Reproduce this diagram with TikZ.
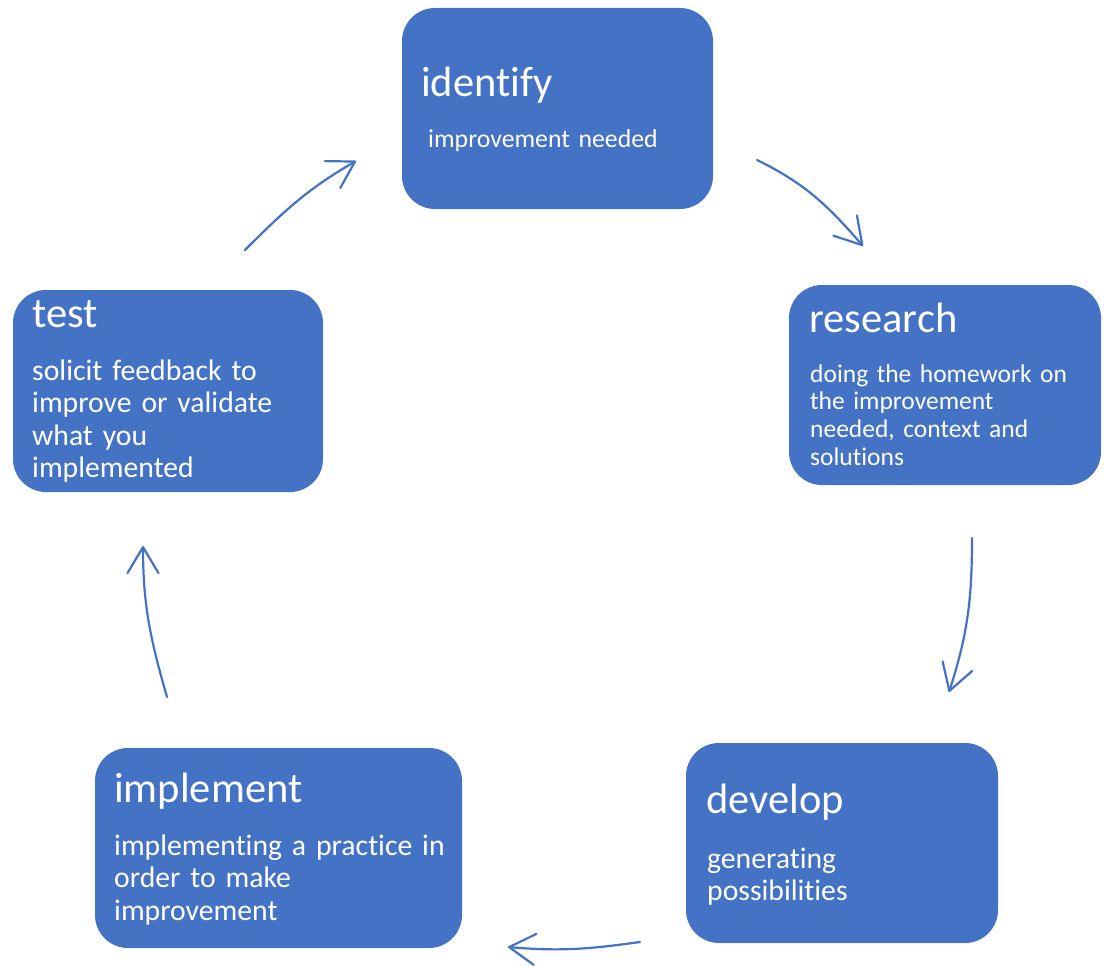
\documentclass[tikz,border=0pt]{standalone}
\usepackage{fontspec}
\setmainfont{Carlito}[Ligatures=NoCommon, WordSpace=0.9]
\usetikzlibrary{arrows.meta}
\definecolor{boxblue}{HTML}{4472C4}
\begin{document}
\begin{tikzpicture}[x=1pt,y=1pt,
  stepbox/.style={rectangle, rounded corners=33pt, fill=boxblue, draw=none, inner sep=0pt},
  titletext/.style={anchor=base west, inner sep=0pt, text=white, font={\fontsize{42.5pt}{51pt}\selectfont}},
  bodytext/.style={anchor=base west, inner sep=0pt, text=white, align=left, text width=340pt},
  bodybig/.style={bodytext, font={\fontsize{29.7pt}{32.6pt}\selectfont}},
  flow/.style={draw=boxblue, line width=2.2pt, line cap=round,
    -{Straight Barb[length=26pt,width=31pt,line width=2.2pt,round]}}]
\useasboundingbox (0,0) rectangle (1104,-966);

% boxes
\node[stepbox, minimum width=311pt, minimum height=201pt] (identify) at (557.5,-108.5) {};
\node[stepbox, minimum width=312pt, minimum height=200pt] (research) at (945,-385) {};
\node[stepbox, minimum width=312pt, minimum height=200pt] (develop) at (842,-843) {};
\node[stepbox, minimum width=367pt, minimum height=200pt] (implement) at (278.5,-848) {};
\node[stepbox, minimum width=310pt, minimum height=202pt] (test) at (168,-391) {};

% texts
\node[titletext] (identifyT) at (421,-97) {identify};
\node[bodytext, font={\fontsize{25.8pt}{28pt}\selectfont}] (identifyB) at (428,-147) {improvement needed};

\node[titletext] (researchT) at (809,-332) {research};
\node[bodytext, font={\fontsize{25.5pt}{27.7pt}\selectfont}] (researchB) at (810,-382)
  {doing the homework on\\the improvement\\needed, context and\\solutions};

\node[titletext] (developT) at (706,-813) {develop};
\node[bodybig] (developB) at (707,-868) {generating\\possibilities};

\node[titletext] (implementT) at (114,-802) {implement};
\node[bodybig] (implementB) at (114,-855) {implementing a practice in\\order to make\\improvement};

\node[titletext] (testT) at (32,-327) {test};
\node[bodybig] (testB) at (32,-380) {solicit feedback to\\improve or validate\\what you\\implemented};

% arrow end points
\coordinate (a1s) at (245,-250);
\coordinate (a1e) at (356,-161);
\coordinate (a2s) at (757,-160);
\coordinate (a2e) at (863,-246);
\coordinate (a3s) at (972,-538);
\coordinate (a3e) at (949,-692);
\coordinate (a4s) at (640,-942);
\coordinate (a4e) at (508,-947);
\coordinate (a5s) at (167,-697);
\coordinate (a5e) at (143,-546);

% arrows
\draw[flow] (a1s) to[out=45,in=210] (a1e);
\draw[flow] (a2s) to[out=-26,in=131] (a2e);
\draw[flow] (a3s) to[out=-90,in=72] (a3e);
\draw[flow] (a4s) to[out=188,in=-5] (a4e);
\draw[flow] (a5s) to[out=106,in=-90] (a5e);
\end{tikzpicture}
\end{document}
